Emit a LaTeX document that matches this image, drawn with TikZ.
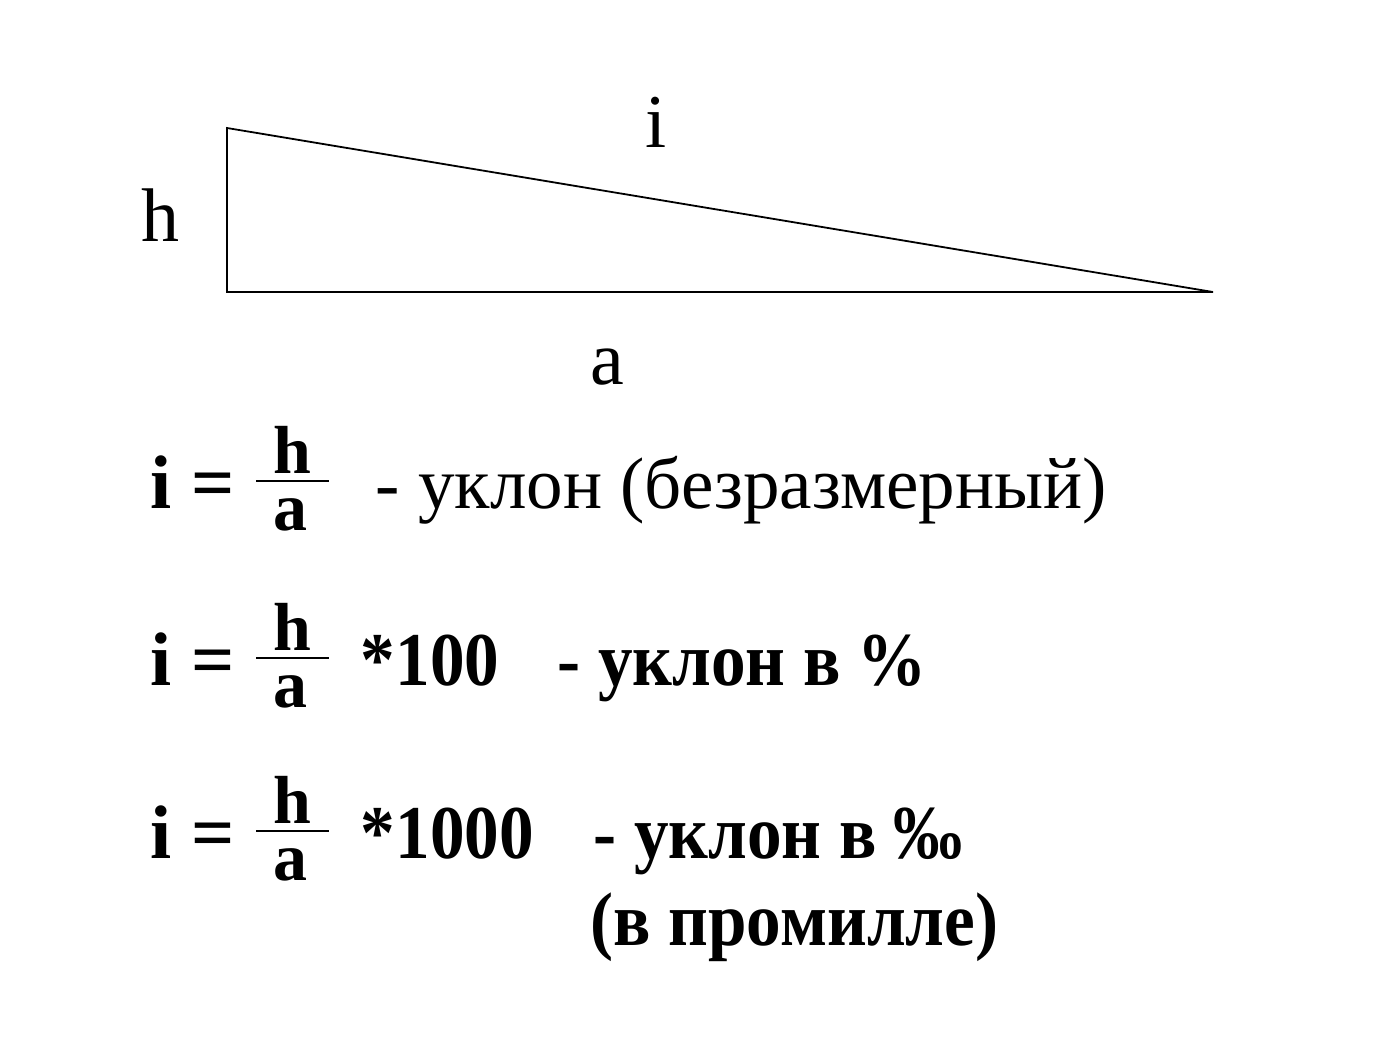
\documentclass[tikz,border=0pt]{standalone}
\usepackage{fontspec}
\setmainfont{Liberation Serif}
\newfontfamily\narrowserif[FakeStretch=0.91]{Liberation Serif}
\usepackage{tikz}
\usetikzlibrary{positioning}

\begin{document}
\begin{tikzpicture}[x=0.5pt, y=-0.5pt, line width=0.9pt,
    txt/.style={font=\fontsize{38}{44}\narrowserif\bfseries, inner sep=0pt, anchor=base west},
    eqs/.style={font=\fontsize{38}{44}\selectfont\bfseries, inner sep=0pt, anchor=base west},
    frc/.style={font=\fontsize{34}{40}\selectfont\bfseries, inner sep=0pt, anchor=base},
    lbl/.style={font=\fontsize{38}{44}\selectfont, inner sep=0pt}]
    \useasboundingbox (0,0) rectangle (1384,1050);
    % triangle
    \coordinate (top) at (227,128);
    \coordinate (corner) at (227,292);
    \coordinate (tip) at (1213,292);
    \draw (top) -- (corner) -- (tip) -- cycle;
        \node[lbl] (slope) at (656,122) {i};
        \node[lbl] (height) at (160,215) {h};
        \node[lbl] (base) at (607,367) {a};
    % formulas
    \foreach \y/\n in {508/1, 685/2, 858/3} {
        \node[eqs] (eq\n) at (150,\y) {i =};
        \node[frc] (num\n) at (292,\y-35) {h};
        \node[frc] (den\n) at (290,\y+22) {a};
        \draw[line width=1pt] (256,\y-27) -- (329,\y-27);
    }
        \node[txt, font=\fontsize{36.5}{42}\selectfont] (txt1) at (375,508) {- уклон (безразмерный)};
        \node[txt] (mul2) at (360,685) {*100};
        \node[txt] (txt2) at (557,685) {- уклон в \%};
        \node[txt] (mul3) at (360,858) {*1000};
        \node[txt] (txt3) at (593,858) {- уклон в ‰};
        \node[txt] (txt4) at (590,945) {(в промилле)};
\end{tikzpicture}
\end{document}
